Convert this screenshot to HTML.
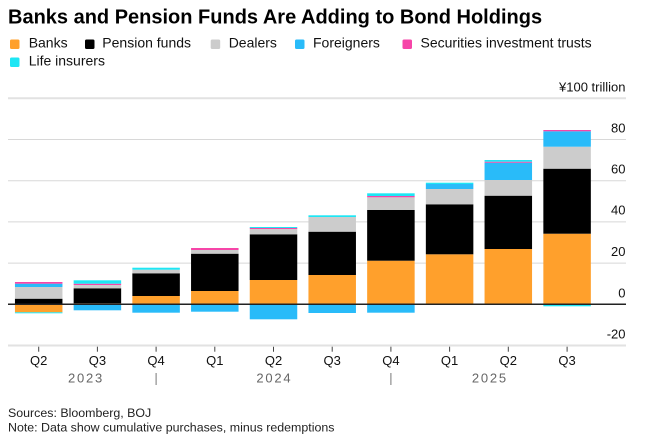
<!DOCTYPE html>
<html>
<head>
<meta charset="utf-8">
<style>
  html,body{margin:0;padding:0;background:#fff;}
  body{width:650px;height:445px;overflow:hidden;}
  svg{display:block;font-family:"Liberation Sans",Arial,sans-serif;}
</style>
</head>
<body>
<svg width="650" height="445" viewBox="0 0 650 445" xmlns="http://www.w3.org/2000/svg">
  <!-- Title -->
  <text x="8" y="23.5" font-size="20" font-weight="bold" fill="#000">Banks and Pension Funds Are Adding to Bond Holdings</text>

  <!-- Legend -->
  <g font-size="14" fill="#111">
    <rect x="10" y="39.5" width="9.5" height="9.5" rx="1.5" fill="#ffa02c"/>
    <text x="28.7" y="47.7">Banks</text>
    <rect x="85" y="39.5" width="9.5" height="9.5" rx="1.5" fill="#000"/>
    <text x="102.3" y="47.7">Pension funds</text>
    <rect x="210.7" y="39.5" width="9.5" height="9.5" rx="1.5" fill="#cccccc"/>
    <text x="228.7" y="47.7">Dealers</text>
    <rect x="295" y="39.5" width="9.5" height="9.5" rx="1.5" fill="#29bbf9"/>
    <text x="313" y="47.7">Foreigners</text>
    <rect x="402.5" y="39.5" width="9.5" height="9.5" rx="1.5" fill="#f645a8"/>
    <text x="420.5" y="47.7">Securities investment trusts</text>
    <rect x="10" y="57.5" width="9.5" height="9.5" rx="1.5" fill="#1ee6f4"/>
    <text x="28.7" y="65.7">Life insurers</text>
  </g>

  <!-- Gridlines -->
  <g stroke="#d8d8d8" stroke-width="1">
    <line x1="8" x2="626" y1="98.3" y2="98.3" stroke="#e2e2e2" stroke-width="2"/>
    <line x1="8" x2="626" y1="139.5" y2="139.5"/>
    <line x1="8" x2="626" y1="180.7" y2="180.7"/>
    <line x1="8" x2="626" y1="221.9" y2="221.9"/>
    <line x1="8" x2="626" y1="263.1" y2="263.1"/>
    <line x1="8" x2="626" y1="345.5" y2="345.5" stroke="#e2e2e2" stroke-width="2"/>
  </g>

  <!-- Y labels -->
  <g font-size="13" fill="#111" text-anchor="end">
    <text x="625.5" y="91.7">¥100 trillion</text>
    <text x="625.5" y="132.3">80</text>
    <text x="625.5" y="173.5">60</text>
    <text x="625.5" y="214.7">40</text>
    <text x="625.5" y="255.9">20</text>
    <text x="625.5" y="297.3">0</text>
    <text x="625.5" y="338.5">-20</text>
  </g>

  <!-- Bars -->
  <g shape-rendering="auto">
    <!-- Bar 1: Q2 2023, c=38.7 -->
    <rect x="14.95" y="298.7" width="47.5" height="5.6" fill="#000"/>
    <rect x="14.95" y="287" width="47.5" height="11.7" fill="#cccccc"/>
    <rect x="14.95" y="283.7" width="47.5" height="3.3" fill="#29bbf9"/>
    <rect x="14.95" y="282" width="47.5" height="1.7" fill="#f645a8"/>
    <rect x="14.95" y="304.3" width="47.5" height="8" fill="#ffa02c"/>
    <rect x="14.95" y="312.3" width="47.5" height="1" fill="#1ee6f4"/>

    <!-- Bar 2: Q3 2023, c=97.4 -->
    <rect x="73.65" y="303.3" width="47.5" height="1" fill="#ffa02c"/>
    <rect x="73.65" y="288.3" width="47.5" height="15" fill="#000"/>
    <rect x="73.65" y="285" width="47.5" height="3.3" fill="#cccccc"/>
    <rect x="73.65" y="283.7" width="47.5" height="1.3" fill="#f645a8"/>
    <rect x="73.65" y="280.3" width="47.5" height="3.4" fill="#1ee6f4"/>
    <rect x="73.65" y="304.3" width="47.5" height="6" fill="#29bbf9"/>

    <!-- Bar 3: Q4 2023, c=156.1 -->
    <rect x="132.35" y="296" width="47.5" height="8.3" fill="#ffa02c"/>
    <rect x="132.35" y="273.3" width="47.5" height="22.7" fill="#000"/>
    <rect x="132.35" y="269.7" width="47.5" height="3.6" fill="#cccccc"/>
    <rect x="132.35" y="267.7" width="47.5" height="2" fill="#1ee6f4"/>
    <rect x="132.35" y="304.3" width="47.5" height="8.4" fill="#29bbf9"/>

    <!-- Bar 4: Q1 2024, c=214.8 -->
    <rect x="191.05" y="291" width="47.5" height="13.3" fill="#ffa02c"/>
    <rect x="191.05" y="253.7" width="47.5" height="37.3" fill="#000"/>
    <rect x="191.05" y="250" width="47.5" height="3.7" fill="#cccccc"/>
    <rect x="191.05" y="248" width="47.5" height="2" fill="#f645a8"/>
    <rect x="191.05" y="304.3" width="47.5" height="7.4" fill="#29bbf9"/>

    <!-- Bar 5: Q2 2024, c=273.5 -->
    <rect x="249.75" y="280" width="47.5" height="24.3" fill="#ffa02c"/>
    <rect x="249.75" y="234.3" width="47.5" height="45.7" fill="#000"/>
    <rect x="249.75" y="229" width="47.5" height="5.3" fill="#cccccc"/>
    <rect x="249.75" y="228" width="47.5" height="1" fill="#f645a8"/>
    <rect x="249.75" y="227" width="47.5" height="1" fill="#1ee6f4"/>
    <rect x="249.75" y="304.3" width="47.5" height="15" fill="#29bbf9"/>

    <!-- Bar 6: Q3 2024, c=332.2 -->
    <rect x="308.45" y="275" width="47.5" height="29.3" fill="#ffa02c"/>
    <rect x="308.45" y="231.7" width="47.5" height="43.3" fill="#000"/>
    <rect x="308.45" y="217" width="47.5" height="14.7" fill="#cccccc"/>
    <rect x="308.45" y="215.3" width="47.5" height="1.7" fill="#1ee6f4"/>
    <rect x="308.45" y="304.3" width="47.5" height="8.7" fill="#29bbf9"/>

    <!-- Bar 7: Q4 2024, c=390.9 -->
    <rect x="367.15" y="260.7" width="47.5" height="43.6" fill="#ffa02c"/>
    <rect x="367.15" y="210" width="47.5" height="50.7" fill="#000"/>
    <rect x="367.15" y="197.3" width="47.5" height="12.7" fill="#cccccc"/>
    <rect x="367.15" y="196" width="47.5" height="1.3" fill="#f645a8"/>
    <rect x="367.15" y="193.3" width="47.5" height="2.7" fill="#1ee6f4"/>
    <rect x="367.15" y="304.3" width="47.5" height="8.4" fill="#29bbf9"/>

    <!-- Bar 8: Q1 2025, c=449.6 -->
    <rect x="425.85" y="254.3" width="47.5" height="50" fill="#ffa02c"/>
    <rect x="425.85" y="204.3" width="47.5" height="50" fill="#000"/>
    <rect x="425.85" y="189" width="47.5" height="15.3" fill="#cccccc"/>
    <rect x="425.85" y="184" width="47.5" height="5" fill="#29bbf9"/>
    <rect x="425.85" y="182.7" width="47.5" height="1.3" fill="#1ee6f4"/>

    <!-- Bar 9: Q2 2025, c=508.3 -->
    <rect x="484.55" y="249" width="47.5" height="55.3" fill="#ffa02c"/>
    <rect x="484.55" y="195.7" width="47.5" height="53.3" fill="#000"/>
    <rect x="484.55" y="180" width="47.5" height="15.7" fill="#cccccc"/>
    <rect x="484.55" y="162.7" width="47.5" height="17.3" fill="#29bbf9"/>
    <rect x="484.55" y="161.7" width="47.5" height="1" fill="#f645a8"/>
    <rect x="484.55" y="160" width="47.5" height="1.7" fill="#1ee6f4"/>

    <!-- Bar 10: Q3 2025, c=567.1 -->
    <rect x="543.35" y="233.7" width="47.5" height="70.6" fill="#ffa02c"/>
    <rect x="543.35" y="168.7" width="47.5" height="65" fill="#000"/>
    <rect x="543.35" y="146.7" width="47.5" height="22" fill="#cccccc"/>
    <rect x="543.35" y="131.3" width="47.5" height="15.4" fill="#29bbf9"/>
    <rect x="543.35" y="130" width="47.5" height="1.3" fill="#f645a8"/>
    <rect x="543.35" y="304.3" width="47.5" height="2" fill="#1ee6f4"/>
  </g>

  <!-- Zero line -->
  <line x1="8" x2="626" y1="304.3" y2="304.3" stroke="#222" stroke-width="1.5"/>

  <!-- X ticks -->
  <g stroke="#444" stroke-width="1">
    <line x1="38.7" x2="38.7" y1="346.7" y2="351.7"/>
    <line x1="97.4" x2="97.4" y1="346.7" y2="351.7"/>
    <line x1="156.1" x2="156.1" y1="346.7" y2="351.7"/>
    <line x1="214.8" x2="214.8" y1="346.7" y2="351.7"/>
    <line x1="273.5" x2="273.5" y1="346.7" y2="351.7"/>
    <line x1="332.2" x2="332.2" y1="346.7" y2="351.7"/>
    <line x1="390.9" x2="390.9" y1="346.7" y2="351.7"/>
    <line x1="449.6" x2="449.6" y1="346.7" y2="351.7"/>
    <line x1="508.3" x2="508.3" y1="346.7" y2="351.7"/>
    <line x1="567.1" x2="567.1" y1="346.7" y2="351.7"/>
  </g>

  <!-- X labels -->
  <g font-size="13" fill="#111" text-anchor="middle">
    <text x="38.7" y="365">Q2</text>
    <text x="97.4" y="365">Q3</text>
    <text x="156.1" y="365">Q4</text>
    <text x="214.8" y="365">Q1</text>
    <text x="273.5" y="365">Q2</text>
    <text x="332.2" y="365">Q3</text>
    <text x="390.9" y="365">Q4</text>
    <text x="449.6" y="365">Q1</text>
    <text x="508.3" y="365">Q2</text>
    <text x="567.1" y="365">Q3</text>
  </g>
  <g font-size="13" fill="#666" text-anchor="middle" letter-spacing="1.8">
    <text x="86" y="382.7">2023</text>
    <text x="274.4" y="382.7">2024</text>
    <text x="489.9" y="382.7">2025</text>
  </g>
  <g stroke="#777" stroke-width="1">
    <line x1="156.1" x2="156.1" y1="373" y2="385"/>
    <line x1="390.9" x2="390.9" y1="373" y2="385"/>
  </g>

  <!-- Footer -->
  <g font-size="12.4" fill="#222">
    <text x="8" y="417">Sources: Bloomberg, BOJ</text>
    <text x="8" y="431.5">Note: Data show cumulative purchases, minus redemptions</text>
  </g>
</svg>
</body>
</html>
